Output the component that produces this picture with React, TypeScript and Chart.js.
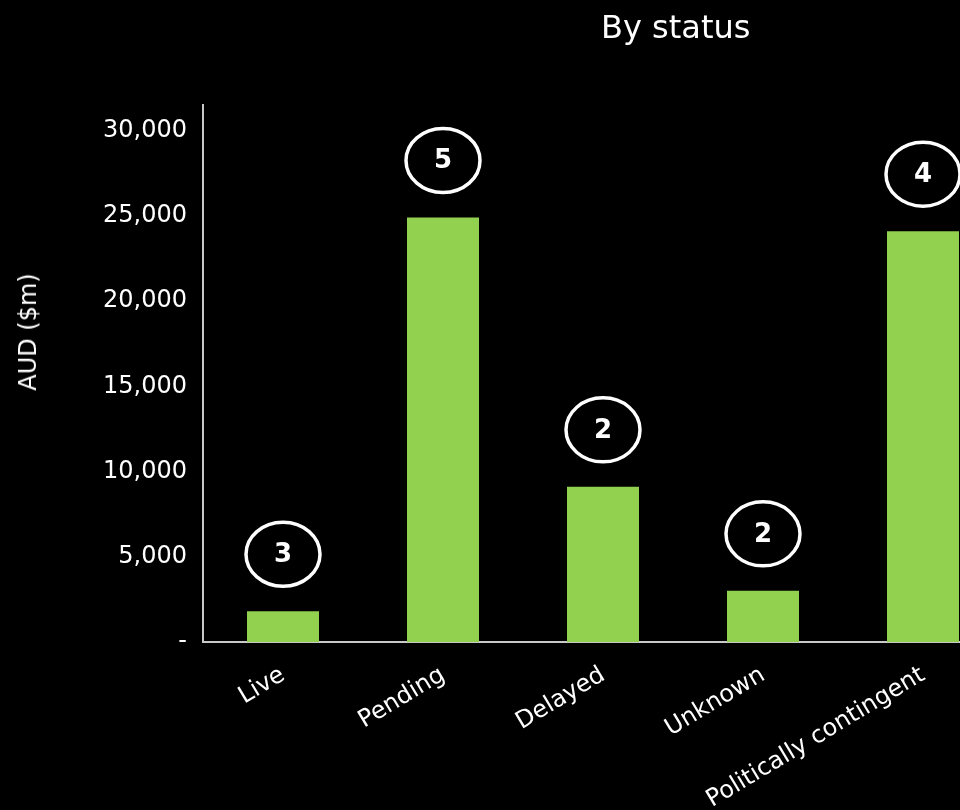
import React, { useEffect, useRef } from "react";
import { Chart, registerables } from "chart.js";

Chart.register(...registerables);

const categories = ["Live", "Pending", "Delayed", "Unknown", "Politically contingent"];
const values = [1800, 24900, 9100, 3000, 24100];
const counts = [3, 5, 2, 2, 4];
const yTicks = [0, 5000, 10000, 15000, 20000, 25000, 30000];

const FONT = "'DejaVu Sans', Verdana, sans-serif";

const circlePlugin = {
  id: "circleLabels",
  afterDatasetsDraw(chart: any) {
    const ctx = chart.ctx;
    const meta = chart.getDatasetMeta(0);
    ctx.save();
    meta.data.forEach((bar: any, i: number) => {
      const cx = bar.x;
      const cy = bar.y - 57;
      ctx.beginPath();
      ctx.ellipse(cx, cy, 37, 32, 0, 0, Math.PI * 2);
      ctx.lineWidth = 3.5;
      ctx.strokeStyle = "#ffffff";
      ctx.stroke();
      ctx.fillStyle = "#ffffff";
      ctx.font = `bold 26px ${FONT}`;
      ctx.textAlign = "center";
      ctx.textBaseline = "middle";
      ctx.fillText(String(counts[i]), cx, cy + 1);
    });
    ctx.restore();
  },
};

export default function App() {
  const ref = useRef<HTMLCanvasElement>(null);
  useEffect(() => {
    document.body.style.margin = "0";
    document.body.style.background = "#000";
    document.body.style.overflow = "hidden";
    const chart = new Chart(ref.current!, {
      type: "bar",
      data: {
        labels: categories,
        datasets: [
          {
            data: values,
            backgroundColor: "#92D050",
            borderWidth: 0,
            categoryPercentage: 1,
            barPercentage: 0.45,
          },
        ],
      },
      options: {
        animation: false,
        responsive: false,
        layout: { padding: { top: 105, left: 0, right: 7, bottom: 0 } },
        plugins: { legend: { display: false }, tooltip: { enabled: false } },
        scales: {
          x: {
            grid: { display: false, drawTicks: false },
            border: { display: true, color: "#c8c8c8", width: 2 },
            ticks: {
              color: "#ffffff",
              font: { family: FONT, size: 24 },
              minRotation: 31,
              maxRotation: 31,
              padding: 19,
            },
            afterFit: (s: any) => {
              s.height = 168;
            },
          },
          y: {
            min: 0,
            max: 31500,
            grid: { display: false, drawTicks: false },
            border: { display: true, color: "#c8c8c8", width: 2 },
            afterBuildTicks: (s: any) => {
              s.ticks = yTicks.map((v) => ({ value: v }));
            },
            ticks: {
              color: "#ffffff",
              font: { family: FONT, size: 24 },
              padding: 16,
              callback: (v: any) => (v === 0 ? "-" : Number(v).toLocaleString("en-US")),
            },
            afterFit: (s: any) => {
              s.width = 203;
            },
          },
        },
      },
      plugins: [circlePlugin],
    });
    return () => chart.destroy();
  }, []);
  return (
    <div style={{ position: "relative", width: 960, height: 810, overflow: "hidden", background: "#000" }}>
      <canvas ref={ref} width={1010} height={810} style={{ position: "absolute", left: 0, top: 0 }} />
      <div
        style={{
          position: "absolute",
          left: 601,
          top: 7,
          color: "#fff",
          fontFamily: FONT,
          fontSize: 32,
          lineHeight: "40px",
          whiteSpace: "nowrap",
        }}
      >
        By status
      </div>
      <div
        style={{
          position: "absolute",
          left: 28,
          top: 332,
          color: "#fff",
          fontFamily: FONT,
          fontSize: 24,
          whiteSpace: "nowrap",
          transform: "translate(-50%, -50%) rotate(-90deg)",
        }}
      >
        AUD ($m)
      </div>
    </div>
  );
}
